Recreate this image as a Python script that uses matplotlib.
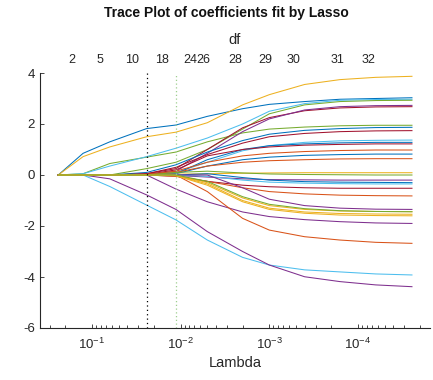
import numpy as np
import matplotlib
matplotlib.use("Agg")
import matplotlib.pyplot as plt
import matplotlib.transforms as mtrans
from matplotlib.ticker import FixedLocator, FixedFormatter, LogLocator, NullFormatter

plt.rcParams['font.family'] = ['Liberation Sans', 'DejaVu Sans']
plt.rcParams['mathtext.fontset'] = 'custom'
plt.rcParams['mathtext.rm'] = 'Liberation Sans'
plt.rcParams['mathtext.it'] = 'Liberation Sans'

# lambda grid (log scale, decreasing)
lam = [0.24, 0.126, 0.063, 0.0242, 0.0113, 0.005, 0.002, 0.001, 0.0004, 0.00016, 6.3e-5, 2.46e-5]

coef = {
    'blue1':    [0, 0.85, 1.3, 1.82, 1.96, 2.3, 2.6, 2.77, 2.88, 2.97, 3.0, 3.03],
    'yellow1':  [0, 0.72, 1.1, 1.5, 1.68, 2.05, 2.75, 3.15, 3.55, 3.74, 3.83, 3.87],
    'green1':   [0, 0.05, 0.45, 0.7, 0.9, 1.3, 1.65, 1.8, 1.88, 1.93, 1.95, 1.95],
    'cyan1':    [0, 0.05, 0.35, 0.72, 1.05, 1.45, 2.0, 2.5, 2.8, 2.93, 2.96, 2.97],
    'cyanneg':  [0, 0, -0.45, -1.18, -1.76, -2.55, -3.23, -3.53, -3.72, -3.8, -3.88, -3.92],
    'purpneg':  [0, 0, -0.15, -0.78, -1.35, -2.22, -3.0, -3.53, -3.99, -4.18, -4.31, -4.38],
    'purp2':    [0, 0, 0, 0, -0.55, -1.05, -1.45, -1.63, -1.75, -1.83, -1.88, -1.9],
    'orangeneg':[0, 0, 0, 0, 0, -0.65, -1.7, -2.16, -2.42, -2.55, -2.64, -2.68],
    'green2':   [0, 0, 0, 0.25, 0.5, 1.0, 1.8, 2.4, 2.75, 2.88, 2.92, 2.93],
    'maroon1':  [0, 0, 0, 0.05, 0.25, 1.0, 1.85, 2.25, 2.52, 2.63, 2.67, 2.68],
    'purp1':    [0, 0, 0, 0.0, 0.15, 0.85, 1.7, 2.2, 2.55, 2.68, 2.72, 2.73],
    'blue2':    [0, 0, 0, 0.1, 0.4, 0.9, 1.35, 1.6, 1.75, 1.82, 1.86, 1.87],
    'maroon2':  [0, 0, 0, 0.05, 0.3, 0.8, 1.25, 1.5, 1.63, 1.7, 1.73, 1.74],
    'cyan2':    [0, 0, 0, 0.0, 0.1, 0.5, 0.95, 1.15, 1.28, 1.34, 1.36, 1.37],
    'blue3':    [0, 0, 0, 0.0, 0.05, 0.6, 1.0, 1.15, 1.22, 1.26, 1.28, 1.28],
    'maroon3':  [0, 0, 0, 0.02, 0.2, 0.75, 1.0, 1.1, 1.17, 1.2, 1.22, 1.22],
    'orange1':  [0, 0, 0, 0.02, 0.15, 0.5, 0.75, 0.85, 0.92, 0.96, 0.98, 0.98],
    'blue4':    [0, 0, 0, 0, 0.05, 0.35, 0.6, 0.7, 0.77, 0.8, 0.82, 0.82],
    'orange2':  [0, 0, 0, 0.01, 0.1, 0.35, 0.5, 0.56, 0.6, 0.63, 0.64, 0.64],
    'yellow0':  [0, 0, 0, 0, 0.03, 0.05, 0.07, 0.08, 0.09, 0.09, 0.09, 0.09],
    'green0':   [0, 0, 0, 0, 0.1, 0.15, 0.08, 0.04, 0.02, 0.01, 0, 0],
    'purp3':    [0, 0, 0, 0, -0.02, -0.08, -0.15, -0.18, -0.19, -0.2, -0.2, -0.2],
    'blue5':    [0, 0, 0, 0, 0, 0.05, -0.1, -0.2, -0.26, -0.28, -0.29, -0.3],
    'cyan3':    [0, 0, 0, 0, 0, -0.05, -0.2, -0.28, -0.32, -0.34, -0.35, -0.35],
    'maroon4':  [0, 0, 0, 0, -0.05, -0.25, -0.4, -0.46, -0.5, -0.52, -0.52, -0.52],
    'orange3':  [0, 0, 0, 0, -0.05, -0.25, -0.5, -0.65, -0.74, -0.79, -0.81, -0.82],
    'purp4':    [0, 0, 0, 0, 0, 0, -0.5, -0.95, -1.2, -1.3, -1.34, -1.35],
    'yellow2':  [0, 0, 0, 0, 0, -0.3, -0.9, -1.2, -1.35, -1.41, -1.43, -1.44],
    'yellow3':  [0, 0, 0, 0, -0.02, -0.35, -1.0, -1.3, -1.45, -1.51, -1.53, -1.54],
    'yellow4':  [0, 0, 0, 0, -0.03, -0.4, -1.05, -1.35, -1.5, -1.57, -1.59, -1.6],
    'green3':   [0, 0, 0, 0, 0, -0.25, -0.85, -1.15, -1.32, -1.4, -1.43, -1.44],
}

# df labels on top axis
df_labels = ['2', '5', '10', '18', '24', '26', '28', '29', '30', '31', '32']
df_lambda = [0.169, 0.0813, 0.0354, 0.01626, 0.00785, 0.00561, 0.00244, 0.00112, 0.000528, 0.000169, 7.7e-5]

# vertical reference lines
vline_lambda = [0.0242, 0.0113]

palette = {'blue': '#0072BD', 'orange': '#D95319', 'yellow': '#EDB120', 'purp': '#7E2F8E',
           'green': '#77AC30', 'cyan': '#4DBEEE', 'maroon': '#A2142F'}

def color_for(name):
    for k, v in palette.items():
        if name.startswith(k):
            return v
    return 'k'

fig = plt.figure(figsize=(4.33, 3.8), dpi=100)
ax = fig.add_axes([40/433, 1-328/380, 390/433, 255/380])

for name, vals in coef.items():
    ax.plot(lam, vals, color=color_for(name), lw=0.75)

ax.axvline(vline_lambda[0], color='k', ls=(0, (1, 2.5)), lw=0.9)
ax.axvline(vline_lambda[1], color='#9fcf8f', ls=(0, (1, 2)), lw=0.9)

ax.set_xscale('log')
ax.set_xlim(0.3855, 1.54e-5)
ax.set_ylim(-6, 4)
ax.xaxis.set_major_locator(FixedLocator([1e-1, 1e-2, 1e-3, 1e-4]))
ax.xaxis.set_major_formatter(FixedFormatter([r'$10^{-1}$', r'$10^{-2}$', r'$10^{-3}$', r'$10^{-4}$']))
ax.xaxis.set_minor_locator(LogLocator(base=10, subs=np.arange(2, 10), numticks=20))
ax.xaxis.set_minor_formatter(NullFormatter())
yt = [-6, -4, -2, 0, 2, 4]
ax.yaxis.set_major_locator(FixedLocator(yt))
ax.yaxis.set_major_formatter(FixedFormatter([str(v) for v in yt]))
ax.tick_params(direction='in', length=3, width=0.6, labelsize=9.5, colors='#262626')
ax.tick_params(which='minor', direction='in', length=2, width=0.5)
ax.tick_params(axis='x', pad=6)
for s in ['top', 'right']:
    ax.spines[s].set_visible(False)
for s in ['left', 'bottom']:
    ax.spines[s].set_color('#262626')
    ax.spines[s].set_linewidth(0.8)

ax.set_xlabel('Lambda', fontsize=10.5, color='#262626', labelpad=3)

trans = mtrans.blended_transform_factory(ax.transData, ax.transAxes)
for lab, lv in zip(df_labels, df_lambda):
    ax.text(lv, 1.052, lab, transform=trans, ha='center', va='center', fontsize=9, color='#262626')

fig.text(235/433, 1-40/380, 'df', ha='center', va='center', fontsize=10.5, color='#262626')
fig.text(226/433, 1-13/380, 'Trace Plot of coefficients fit by Lasso', ha='center', va='center',
         fontsize=10, fontweight='bold', color='#111111')

fig.savefig('out.png', dpi=100)
